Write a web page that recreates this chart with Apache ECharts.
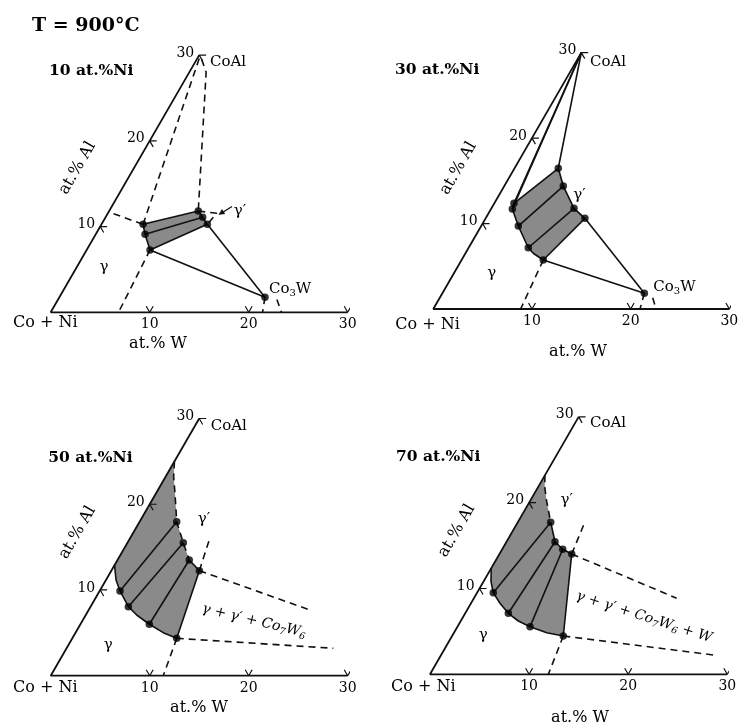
<!DOCTYPE html>
<html><head><meta charset="utf-8">
<script src="https://cdn.jsdelivr.net/npm/echarts@6/dist/echarts.min.js"></script>
<style>html,body{margin:0;padding:0;background:#fff}#c{width:739px;height:725px}</style>
</head><body><div id="c"></div>
<script>
// ---------------- data (ternary: [at.% W, at.% Al]) ----------------
const wTicks = [10, 20, 30];
const alTicks = [10, 20, 30];
const titles = ['10 at.%Ni', '30 at.%Ni', '50 at.%Ni', '70 at.%Ni'];
const axisCorner = [[0, 30], [0, 0], [30, 0]];

// 10 at.% Ni
const ni10Gamma = [[4.2, 10.26], [4.98, 9.10], [6.4, 7.27]];
const ni10GammaP = [[9.0, 11.81], [9.81, 11.08], [10.69, 10.26]];
const ni10Co3W = [20.77, 1.75];
const ni10Dashed = [
  [[0.6, 11.5], [4.2, 10.26]],
  [[0.2, 29.6], [4.2, 10.26]],
  [[0.5, 29.5], [1.7, 28.0], [9.0, 11.81]],
  [[9.0, 11.81], [11.0, 11.55], [10.69, 10.26]],
  [[6.4, 7.27], [6.85, 0]],
  [[20.77, 1.75], [21.4, 0]],
  [[22.1, 1.5], [23.3, 0]]
];

// 30 at.% Ni
const ni30CoAl = [0, 30];
const ni30GammaTie = [[1.99, 12.37], [3.76, 9.71], [6.04, 7.17], [8.28, 5.73]];
const ni30GammaB2 = [2.16, 11.70];
const ni30GammaCurve = [[1.99, 12.37], [2.16, 11.70], [3.76, 9.71], [6.04, 7.17], [6.87, 6.52], [8.28, 5.73]];
const ni30GammaPTie = [[4.43, 16.47], [5.98, 14.39], [8.37, 11.78], [10.06, 10.61]];
const ni30Co3W = [20.47, 1.84];
const ni30Dashed = [
  [[8.28, 5.73], [8.85, 0]],
  [[20.47, 1.84], [20.95, 0]],
  [[21.58, 1.32], [22.57, 0]]
];

// 50 at.% Ni
const ni50GammaCurve = [[0, 12.9], [1.02, 11.16], [2.06, 9.88], [3.82, 8.05], [5.15, 7.08], [6.96, 6.0], [8.86, 5.02], [10.55, 4.36]];
const ni50GammaTie = [[2.06, 9.88], [3.82, 8.05], [6.96, 6.0], [10.55, 4.36]];
const ni50GammaPCurve = [[0, 25.0], [0.82, 23.2], [1.92, 21.27], [3.75, 17.96], [5.64, 15.51], [7.25, 13.49]];
const ni50GammaPTie = [[3.75, 17.96], [5.64, 15.51], [7.25, 13.49], [8.89, 12.25]];
const ni50Dashed = [
  [[10.55, 4.36], [26.95, 3.2]],
  [[8.89, 12.25], [22.36, 7.66]],
  [[10.55, 4.36], [11.37, 0]],
  [[8.89, 12.25], [8.1, 15.83]]
];

// 70 at.% Ni
const ni70GammaCurve = [[0, 12.35], [0.76, 10.79], [1.63, 9.51], [2.92, 8.28], [4.35, 7.11], [5.81, 6.21], [7.32, 5.55], [9.36, 4.85], [11.22, 4.46]];
const ni70GammaTie = [[1.63, 9.51], [4.35, 7.11], [7.32, 5.55], [11.22, 4.46]];
const ni70GammaPDashed = [[0, 23.2], [0.64, 21.87], [1.6, 20.3], [3.32, 17.72]];
const ni70GammaPTie = [[3.32, 17.72], [4.89, 15.45], [6.11, 14.57], [7.29, 14.02]];
const ni70Dashed = [
  [[11.22, 4.46], [27.47, 2.25]],
  [[7.29, 14.02], [20.46, 8.86]],
  [[11.22, 4.46], [11.94, 0]],
  [[7.29, 14.02], [6.75, 17.79]]
];

// ---------------- layout ----------------
const layout = [
  { x0: 50.7, y0: 312.3, s: 9.9 },
  { x0: 433.3, y0: 309.0, s: 9.867 },
  { x0: 50.7, y0: 675.7, s: 9.9 },
  { x0: 430.0, y0: 674.3, s: 9.91 }
];
const SQ = Math.sqrt(3) / 2;
const tx = p => [p[0] + p[1] / 2, p[1] * SQ];
const FONT = '"DejaVu Serif", "Liberation Serif", serif';
const INK = '#111';
const FILL = '#8a8a8a';

function poly(i, pts, dashed, width) {
  return {
    type: 'line', xAxisIndex: i, yAxisIndex: i, data: pts.map(tx),
    symbol: 'none', clip: false, silent: true, animation: false, z: 3,
    lineStyle: { color: INK, width: width || 1.6, type: dashed ? [7, 5] : 'solid' }
  };
}
function fill(i, pts) {
  return {
    type: 'custom', xAxisIndex: i, yAxisIndex: i, data: [[0, 0]], silent: true, animation: false, z: 1,
    renderItem: (params, api) => ({
      type: 'polygon',
      shape: { points: pts.map(q => api.coord(tx(q))) },
      style: { fill: FILL, stroke: null }
    })
  };
}
function dots(i, pts) {
  return {
    type: 'scatter', xAxisIndex: i, yAxisIndex: i, data: pts.map(tx), symbolSize: 7.5,
    itemStyle: { color: '#000' }, silent: true, animation: false, z: 5
  };
}
function axes(i) {
  const out = [poly(i, axisCorner, false, 1.8)];
  wTicks.forEach(w => out.push(poly(i, [[w - 0.7, 0.7], [w, 0], [w, 0.7]], false, 1.2)));
  alTicks.forEach(a => out.push(poly(i, [[0.7, a], [0, a], [0.7, a - 0.7]], false, 1.2)));
  return out;
}

const series = [];
for (let i = 0; i < 4; i++) series.push(...axes(i));

// panel 0 : 10 at.% Ni
(function () {
  const i = 0, g = ni10Gamma, gp = ni10GammaP;
  series.push(fill(i, [...g, ...gp.slice().reverse()]));
  series.push(poly(i, g), poly(i, gp));
  g.forEach((p, k) => series.push(poly(i, [p, gp[k]])));
  series.push(poly(i, [g[2], ni10Co3W]), poly(i, [gp[2], ni10Co3W]));
  ni10Dashed.forEach(d => series.push(poly(i, d, true)));
  series.push(dots(i, [...g, ...gp, ni10Co3W]));
})();
// panel 1 : 30 at.% Ni
(function () {
  const i = 1, g = ni30GammaTie, gp = ni30GammaPTie;
  series.push(fill(i, [...ni30GammaCurve, ...gp.slice().reverse()]));
  series.push(poly(i, ni30GammaCurve), poly(i, gp));
  g.forEach((p, k) => series.push(poly(i, [p, gp[k]])));
  series.push(poly(i, [ni30CoAl, g[0]]), poly(i, [ni30CoAl, ni30GammaB2]), poly(i, [ni30CoAl, gp[0]]));
  series.push(poly(i, [g[3], ni30Co3W]), poly(i, [gp[3], ni30Co3W]));
  ni30Dashed.forEach(d => series.push(poly(i, d, true)));
  series.push(dots(i, [...g, ni30GammaB2, ...gp, ni30Co3W]));
})();
// panel 2 : 50 at.% Ni
(function () {
  const i = 2, g = ni50GammaTie, gp = ni50GammaPTie;
  series.push(fill(i, [...ni50GammaPCurve, gp[3], ...ni50GammaCurve.slice().reverse()]));
  series.push(poly(i, ni50GammaCurve), poly(i, ni50GammaPCurve, true));
  for (let k = 0; k < 3; k++) series.push(poly(i, [g[k], gp[k]]));
  series.push(poly(i, [gp[2], gp[3]]), poly(i, [gp[3], g[3]]));
  ni50Dashed.forEach(d => series.push(poly(i, d, true)));
  series.push(dots(i, [...g, ...gp]));
})();
// panel 3 : 70 at.% Ni
(function () {
  const i = 3, g = ni70GammaTie, gp = ni70GammaPTie;
  series.push(fill(i, [...ni70GammaPDashed, ...gp.slice(1), ...ni70GammaCurve.slice().reverse()]));
  series.push(poly(i, ni70GammaCurve), poly(i, ni70GammaPDashed, true), poly(i, gp));
  for (let k = 0; k < 3; k++) series.push(poly(i, [g[k], gp[k]]));
  series.push(poly(i, [gp[3], g[3]]));
  ni70Dashed.forEach(d => series.push(poly(i, d, true)));
  series.push(dots(i, [...g, ...gp]));
})();

const chart = echarts.init(document.getElementById('c'), null, { renderer: 'canvas' });
chart.setOption({
  backgroundColor: '#fff',
  animation: false,
  grid: layout.map(l => ({ left: l.x0, top: l.y0 - 26 * l.s, width: 30 * l.s, height: 26 * l.s })),
  xAxis: layout.map((l, i) => ({ type: 'value', gridIndex: i, min: 0, max: 30, show: false })),
  yAxis: layout.map((l, i) => ({ type: 'value', gridIndex: i, min: 0, max: 26, show: false })),
  series
});

// ---------------- texts ----------------
function txt(text, x, y, opt) {
  opt = opt || {};
  return {
    type: 'text', x, y, rotation: opt.rot || 0, silent: true, z: 10,
    style: {
      text, fill: '#000',
      font: (opt.style || 'normal') + ' ' + (opt.weight || 'normal') + ' ' + (opt.size || 15) + 'px ' + FONT,
      fontStyle: opt.style || 'normal', fontWeight: opt.weight || 'normal',
      fontSize: opt.size || 15, fontFamily: FONT,
      align: opt.align || 'center', verticalAlign: 'middle',
      textAlign: opt.align || 'center', textVerticalAlign: 'middle',
      rich: opt.rich
    }
  };
}
const subRich = (size, italic) => ({
  s: { fontSize: size, fontFamily: FONT, fontStyle: italic ? 'italic' : 'normal', verticalAlign: 'bottom', padding: [8, 0, 0, 0], fill: '#000' }
});
const g = [];
for (let i = 0; i < 4; i++) {
  wTicks.forEach(w => {
    const p = chart.convertToPixel({ gridIndex: i }, tx([w, 0]));
    g.push(txt(String(w), p[0], p[1] + 12.5, { size: 14 }));
  });
  alTicks.forEach(a => {
    const p = chart.convertToPixel({ gridIndex: i }, tx([0, a]));
    g.push(txt(String(a), p[0] - 5, p[1] - 2, { size: 14, align: 'right' }));
  });
}
// title and panel labels
g.push(txt('T = 900°C', 32, 26.5, { size: 19, weight: 'bold', align: 'left' }));
const titlePos = [[49, 71], [395, 70], [48.3, 458.3], [396, 456.7]];
titles.forEach((t, i) => g.push(txt(t, titlePos[i][0], titlePos[i][1], { size: 15.5, weight: 'bold', align: 'left' })));
const coNiPos = [[45.3, 323.3], [427.5, 325], [45.3, 688.3], [423.3, 686.7]];
const wLabPos = [[158, 343.5], [578, 351.7], [199, 708.3], [580, 718]];
const alLabPos = [[77.5, 168], [458.3, 168.3], [77.5, 532.5], [456.7, 530.8]];
const coAlPos = [[210, 62.5], [590, 61.7], [210.7, 425.7], [590, 422.7]];
const gammaPos = [[104, 267], [491.7, 273], [108.3, 645], [483.3, 635]];
const gammaPPos = [[240, 211], [579.5, 195], [204, 519.3], [566.7, 500]];
for (let i = 0; i < 4; i++) {
  g.push(txt('Co + Ni', coNiPos[i][0], coNiPos[i][1], { size: 16 }));
  g.push(txt('at.% W', wLabPos[i][0], wLabPos[i][1], { size: 16 }));
  g.push(txt('at.% Al', alLabPos[i][0], alLabPos[i][1], { size: 16, rot: Math.PI / 3 }));
  g.push(txt('CoAl', coAlPos[i][0], coAlPos[i][1], { size: 15, align: 'left' }));
  g.push(txt('γ', gammaPos[i][0], gammaPos[i][1], { size: 15 }));
  g.push(txt('γ′', gammaPPos[i][0], gammaPPos[i][1], { size: 15 }));
}
g.push(txt('Co{s|3}W', 269, 289.5, { size: 15, align: 'left', rich: subRich(10) }));
g.push(txt('Co{s|3}W', 653.3, 287, { size: 15, align: 'left', rich: subRich(10) }));
g.push(txt('γ + γ′ + Co{s|7}W{s|6}', 254, 621, { size: 14, style: 'italic', rot: -13.5 * Math.PI / 180, rich: subRich(9.5, true) }));
g.push(txt('γ + γ′ + Co{s|7}W{s|6} + W', 644, 617, { size: 14, style: 'italic', rot: -17.7 * Math.PI / 180, rich: subRich(9.5, true) }));
// arrow to the γ' field (panel 1)
g.push({ type: 'line', silent: true, z: 10, shape: { x1: 232, y1: 206.5, x2: 220, y2: 214 }, style: { stroke: '#111', lineWidth: 1.3 } });
g.push({ type: 'polygon', silent: true, z: 10, shape: { points: [[218.5, 214.8], [225.2, 214.1], [222.0, 209.1]] }, style: { fill: '#111' } });

chart.setOption({ graphic: { elements: g } });
</script>
</body></html>
